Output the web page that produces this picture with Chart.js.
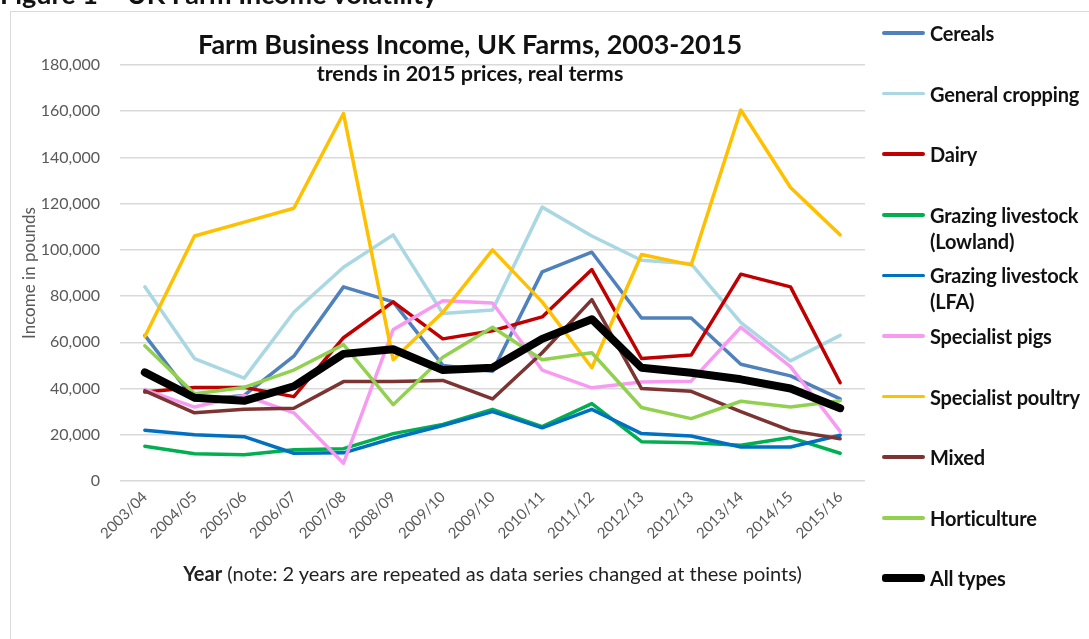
<!DOCTYPE html>
<html><head><meta charset="utf-8">
<script src="https://cdn.jsdelivr.net/npm/chart.js@4.4.0/dist/chart.umd.min.js"></script>
<style>
html,body{margin:0;padding:0;background:#fff;width:1089px;height:639px;overflow:hidden;font-family:Lato,'Open Sans',sans-serif;}
#frame{position:absolute;left:10px;top:11px;width:1200px;height:800px;border:1.5px solid #d9d9d9;}
#wrap{position:absolute;left:0;top:0;width:1089px;height:639px;}
.txt{position:absolute;white-space:nowrap;color:#111;}
#fig{left:0;top:-20px;font-size:27px;font-weight:700;line-height:27px;}
#title{left:0;width:940px;text-align:center;top:29px;font-size:27px;font-weight:700;line-height:30px;}
#sub{left:0;width:940px;text-align:center;top:61px;font-size:21.5px;font-weight:700;line-height:24px;}
#xt{left:0;width:985px;text-align:center;top:561px;font-size:20px;line-height:24px;color:#222;}
.leg{position:absolute;left:882px;height:26px;}
.leg .mk{position:absolute;left:0;width:43px;border-radius:3px;}
.leg .lb{position:absolute;left:48px;top:0;font-size:20px;font-weight:700;line-height:26px;white-space:pre;color:#111;letter-spacing:-0.2px;}
</style></head>
<body>
<div id="frame"></div>
<div id="wrap"><canvas id="c" width="1089" height="639"></canvas></div>
<div class="txt" id="fig">Figure 1 – UK Farm Income volatility</div>
<div class="txt" id="title">Farm Business Income, UK Farms, 2003-2015</div>
<div class="txt" id="sub">trends in 2015 prices, real terms</div>
<div class="txt" id="xt"><b>Year</b> (note: 2 years are repeated as data series changed at these points)</div>
<div id="legend"></div>
<script>
const categories = ['2003/04','2004/05','2005/06','2006/07','2007/08','2008/09','2009/10','2009/10','2010/11','2011/12','2012/13','2012/13','2013/14','2014/15','2015/16'];

const cereals         = [63000, 35000, 37000, 54000, 84000, 77500, 50000, 47500, 90500, 99000, 70500, 70500, 50500, 45500, 35500];
const generalCropping = [84000, 53000, 44500, 73000, 92500, 106500, 72500, 74000, 118500, 106000, 95500, 94000, 68500, 52000, 63000];
const dairy           = [38500, 40500, 40500, 36500, 62000, 77500, 61500, 65000, 71000, 91500, 53000, 54500, 89500, 84000, 42500];
const grazingLowland  = [15000, 11800, 11400, 13500, 14000, 20500, 24500, 31000, 23500, 33500, 17000, 16500, 15500, 18800, 12000];
const grazingLFA      = [22000, 20000, 19200, 12000, 12200, 18500, 24000, 30000, 23000, 31000, 20500, 19500, 14700, 14700, 19800];
const specialistPigs  = [39500, 32000, 37000, 29500, 7700, 65500, 78000, 77000, 48000, 40300, 42800, 43200, 66500, 49500, 21500];
const specialistPoultry = [62500, 106000, 112000, 118000, 159000, 52500, 73000, 100000, 77500, 49000, 98000, 93500, 160500, 127000, 106500];
const mixed           = [39000, 29500, 31000, 31500, 43000, 43000, 43500, 35500, 55500, 78500, 40000, 38800, 30000, 21800, 18300];
const horticulture    = [58500, 37800, 40500, 48000, 59000, 33000, 53500, 66500, 52500, 55500, 31800, 27000, 34500, 32000, 34700];
const allTypes        = [47000, 36000, 34700, 41000, 55000, 57000, 48000, 49000, 61500, 70000, 49000, 46800, 44000, 40000, 31500];

const seriesNames = ['Cereals','General cropping','Dairy','Grazing livestock\n(Lowland)','Grazing livestock\n(LFA)','Specialist pigs','Specialist poultry','Mixed','Horticulture','All types'];
const seriesData = [cereals, generalCropping, dairy, grazingLowland, grazingLFA, specialistPigs, specialistPoultry, mixed, horticulture, allTypes];
const seriesColors = ['#4F81BD','#A9D8E3','#C00000','#00B050','#0070C0','#F79BF2','#FFC000','#7B3432','#92D050','#000000'];
const seriesWidths = [3.5,3.5,3.5,3.5,3.5,3.5,3.5,3.5,3.5,8];

const n = seriesNames.length;
const datasets = seriesNames.map((name,i)=>({
  label: name.replace('\n',' '),
  data: seriesData[i],
  borderColor: seriesColors[i],
  backgroundColor: seriesColors[i],
  borderWidth: seriesWidths[i],
  pointRadius: 0,
  tension: 0,
  fill: false,
  order: n - i
}));

// legend
const leg = document.getElementById('legend');
seriesNames.forEach((name,i)=>{
  const d = document.createElement('div');
  d.className='leg';
  d.style.top = (20 + i*60.6)+'px';
  const mk = document.createElement('div');
  mk.className='mk';
  mk.style.background = seriesColors[i];
  mk.style.height = seriesWidths[i]+'px';
  mk.style.top = (13 - seriesWidths[i]/2)+'px';
  const lb = document.createElement('div');
  lb.className='lb';
  lb.textContent = name;
  d.appendChild(mk); d.appendChild(lb);
  leg.appendChild(d);
});

Chart.defaults.font.family = "Lato, 'Open Sans', sans-serif";
new Chart(document.getElementById('c'), {
  type:'line',
  data:{labels:categories, datasets},
  options:{
    responsive:false, animation:false,
    layout:{padding:{left:15, top:65, right:224, bottom:0}},
    plugins:{legend:{display:false}, tooltip:{enabled:false}, title:{display:false}},
    elements:{line:{borderJoinStyle:'round', borderCapStyle:'round'}, point:{radius:0}},
    scales:{
      x:{
        offset:true,
        grid:{display:false, drawTicks:false},
        border:{display:false},
        ticks:{minRotation:45, maxRotation:45, autoSkip:false, color:'#595959', font:{size:15}, padding:7},
        afterFit(s){ s.height = 158; }
      },
      y:{
        min:0, max:180000,
        ticks:{stepSize:20000, color:'#595959', font:{size:16}, padding:20,
          callback:(v)=>v.toLocaleString('en-GB')},
        grid:{color:'#d9d9d9', lineWidth:1.5, drawTicks:false},
        border:{display:false},
        title:{display:true, text:'Income in pounds', color:'#595959', font:{size:17}, padding:{top:4,bottom:4}},
        afterFit(s){ s.width = 105; }
      }
    }
  }
});
</script>
</body></html>
